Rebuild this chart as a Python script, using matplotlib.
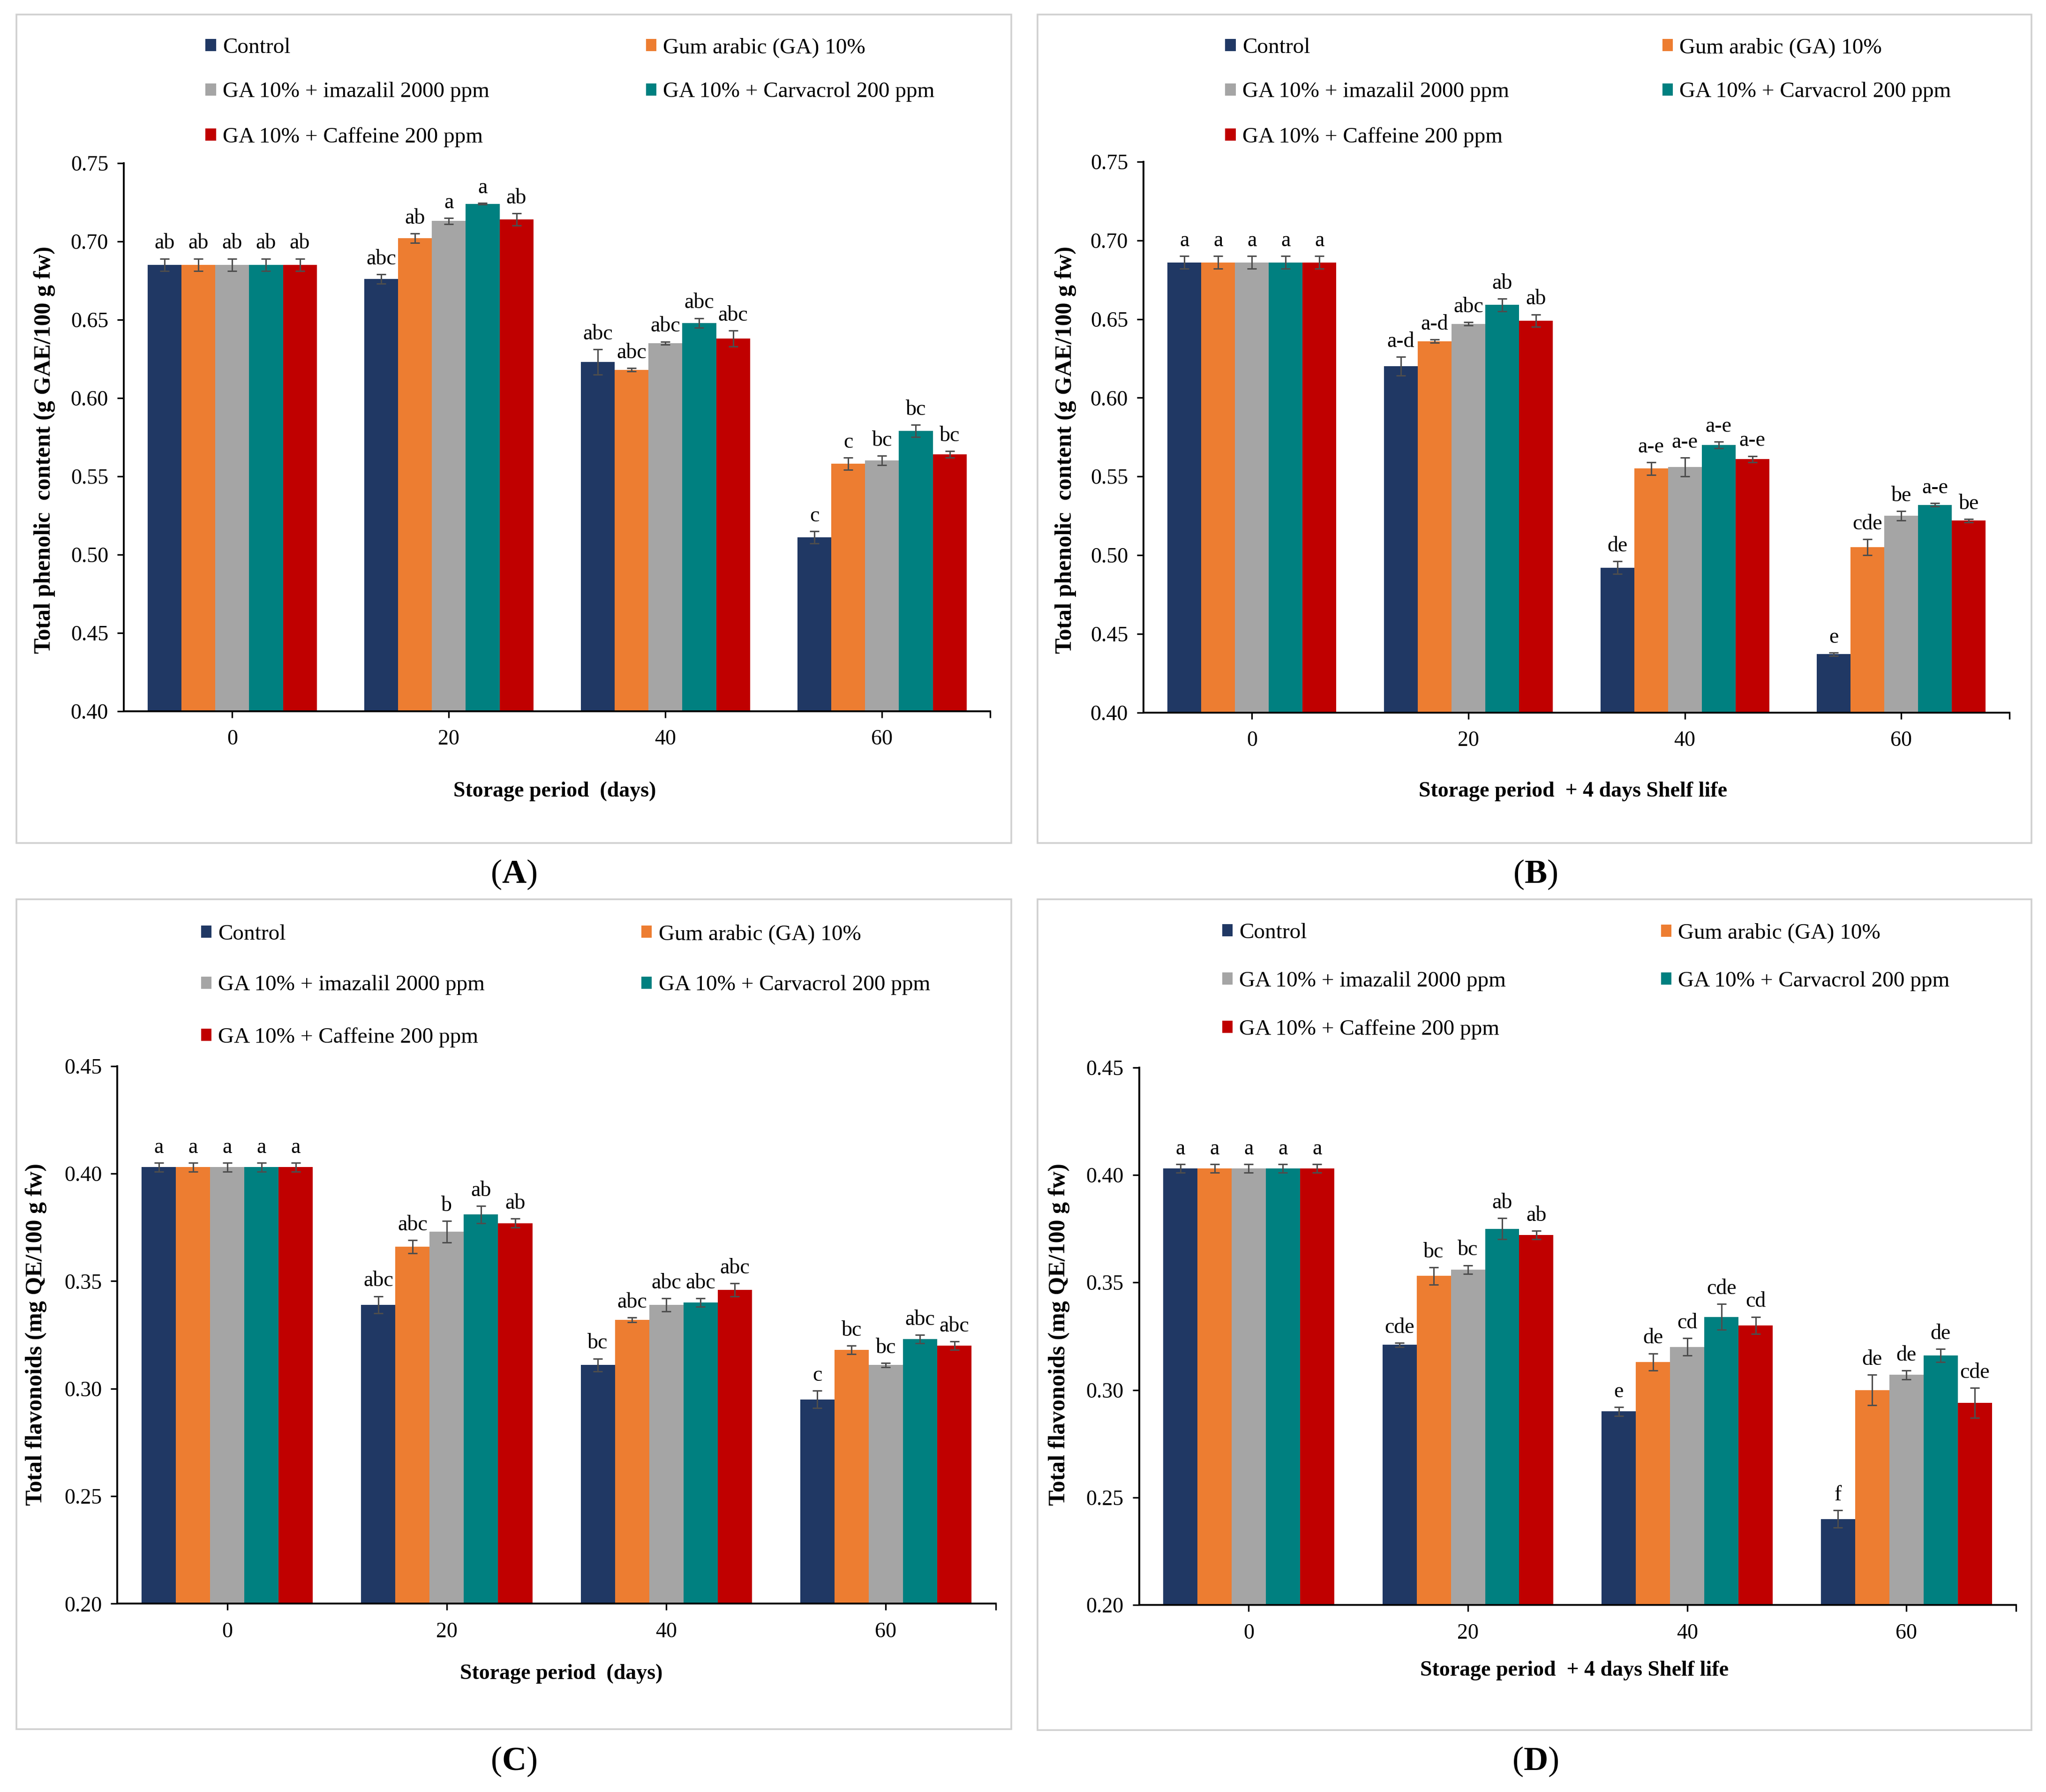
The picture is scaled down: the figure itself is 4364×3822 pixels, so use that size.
import matplotlib
matplotlib.use('Agg')
import matplotlib.pyplot as plt
import numpy as np
from matplotlib.patches import Rectangle, Patch

plt.rcParams['font.family'] = ['Liberation Serif', 'DejaVu Serif']
plt.rcParams['mathtext.fontset'] = 'custom'
plt.rcParams['mathtext.rm'] = 'Liberation Serif'
plt.rcParams['mathtext.bf'] = 'Liberation Serif:bold'

# ---------------- data ----------------
periods = ['0', '20', '40', '60']
treatments = ['Control', 'Gum arabic (GA) 10%', 'GA 10% + imazalil 2000 ppm',
              'GA 10% + Carvacrol 200 ppm', 'GA 10% + Caffeine 200 ppm']
colors = ['#203864', '#ED7D31', '#A5A5A5', '#008080', '#C00000']

# (A) Total phenolic content, storage period
phen_store_vals = [
    [0.685, 0.676, 0.623, 0.511],
    [0.685, 0.702, 0.618, 0.558],
    [0.685, 0.713, 0.635, 0.560],
    [0.685, 0.724, 0.648, 0.579],
    [0.685, 0.714, 0.638, 0.564],
]
phen_store_err = [
    [0.004, 0.003, 0.008, 0.004],
    [0.004, 0.003, 0.001, 0.004],
    [0.004, 0.002, 0.001, 0.003],
    [0.004, 0.0005, 0.003, 0.004],
    [0.004, 0.004, 0.005, 0.002],
]
phen_store_letters = [
    ['ab', 'abc', 'abc', 'c'],
    ['ab', 'ab', 'abc', 'c'],
    ['ab', 'a', 'abc', 'bc'],
    ['ab', 'a', 'abc', 'bc'],
    ['ab', 'ab', 'abc', 'bc'],
]

# (B) Total phenolic content, storage + 4 days shelf life
phen_shelf_vals = [
    [0.686, 0.620, 0.492, 0.437],
    [0.686, 0.636, 0.555, 0.505],
    [0.686, 0.647, 0.556, 0.525],
    [0.686, 0.659, 0.570, 0.532],
    [0.686, 0.649, 0.561, 0.522],
]
phen_shelf_err = [
    [0.004, 0.006, 0.004, 0.001],
    [0.004, 0.001, 0.004, 0.005],
    [0.004, 0.001, 0.006, 0.003],
    [0.004, 0.004, 0.002, 0.001],
    [0.004, 0.004, 0.002, 0.001],
]
phen_shelf_letters = [
    ['a', 'a-d', 'de', 'e'],
    ['a', 'a-d', 'a-e', 'cde'],
    ['a', 'abc', 'a-e', 'be'],
    ['a', 'ab', 'a-e', 'a-e'],
    ['a', 'ab', 'a-e', 'be'],
]

# (C) Total flavonoids, storage period
flav_store_vals = [
    [0.403, 0.339, 0.311, 0.295],
    [0.403, 0.366, 0.332, 0.318],
    [0.403, 0.373, 0.339, 0.311],
    [0.403, 0.381, 0.340, 0.323],
    [0.403, 0.377, 0.346, 0.320],
]
flav_store_err = [
    [0.002, 0.004, 0.003, 0.004],
    [0.002, 0.003, 0.001, 0.002],
    [0.002, 0.005, 0.003, 0.001],
    [0.002, 0.004, 0.002, 0.002],
    [0.002, 0.002, 0.003, 0.002],
]
flav_store_letters = [
    ['a', 'abc', 'bc', 'c'],
    ['a', 'abc', 'abc', 'bc'],
    ['a', 'b', 'abc', 'bc'],
    ['a', 'ab', 'abc', 'abc'],
    ['a', 'ab', 'abc', 'abc'],
]

# (D) Total flavonoids, storage + 4 days shelf life
flav_shelf_vals = [
    [0.403, 0.321, 0.290, 0.240],
    [0.403, 0.353, 0.313, 0.300],
    [0.403, 0.356, 0.320, 0.307],
    [0.403, 0.375, 0.334, 0.316],
    [0.403, 0.372, 0.330, 0.294],
]
flav_shelf_err = [
    [0.002, 0.001, 0.002, 0.004],
    [0.002, 0.004, 0.004, 0.007],
    [0.002, 0.002, 0.004, 0.002],
    [0.002, 0.005, 0.006, 0.003],
    [0.002, 0.002, 0.004, 0.007],
]
flav_shelf_letters = [
    ['a', 'cde', 'e', 'f'],
    ['a', 'bc', 'de', 'de'],
    ['a', 'bc', 'cd', 'de'],
    ['a', 'ab', 'cde', 'de'],
    ['a', 'ab', 'cd', 'cde'],
]

ylabel_phen = 'Total phenolic  content (g GAE/100 g fw)'
ylabel_flav = 'Total flavonoids (mg QE/100 g fw)'
xlabel_store = 'Storage period  (days)'
xlabel_shelf = 'Storage period  + 4 days Shelf life'

# ---------------- layout helpers (reference pixel grid 1568 x 1373.3) ----------------
W, H = 1568.0, 1373.3
def fx(x):
    return x / W
def fy(y):
    return 1 - y / H

fig = plt.figure(figsize=(21.82, 19.11), dpi=200)

panels = [
    dict(vals=phen_store_vals, err=phen_store_err, let=phen_store_letters,
         ax=(95, 759, 125, 545), ylim=(0.40, 0.75), ylab=ylabel_phen, xlab=xlabel_store,
         box=(12.5, 775, 11, 646), tag='A', tagxy=(393.5, 670),
         xlabxy=(425, 606.5), ylabxy=(34, 344.7),
         legx=(157.5, 495), legy=(36.4, 70.5, 105)),
    dict(vals=phen_shelf_vals, err=phen_shelf_err, let=phen_shelf_letters,
         ax=(876.5, 1540, 124, 546), ylim=(0.40, 0.75), ylab=ylabel_phen, xlab=xlabel_shelf,
         box=(795, 1557, 11, 646), tag='B', tagxy=(1176.5, 670),
         xlabxy=(1205.6, 606.5), ylabxy=(816.5, 344.7),
         legx=(939, 1274), legy=(36.4, 70.5, 105)),
    dict(vals=flav_store_vals, err=flav_store_err, let=flav_store_letters,
         ax=(90, 763, 817, 1229), ylim=(0.20, 0.45), ylab=ylabel_flav, xlab=xlabel_store,
         box=(12.5, 775, 689, 1325), tag='C', tagxy=(393.5, 1350),
         xlabxy=(430, 1282.6), ylabxy=(27.5, 1022.8),
         legx=(154, 491.6), legy=(716, 755, 795)),
    dict(vals=flav_shelf_vals, err=flav_shelf_err, let=flav_shelf_letters,
         ax=(873, 1545, 818, 1230), ylim=(0.20, 0.45), ylab=ylabel_flav, xlab=xlabel_shelf,
         box=(795, 1557, 689, 1326), tag='D', tagxy=(1176.5, 1350),
         xlabxy=(1206.6, 1280.3), ylabxy=(811.5, 1022.8),
         legx=(936.6, 1273), legy=(715, 752, 789)),
]

n_t = len(treatments)
bw = 0.156
x = np.arange(len(periods))

for p in panels:
    # panel frame
    bx0, bx1, by0, by1 = p['box']
    fig.patches.append(Rectangle((fx(bx0), fy(by1)), fx(bx1) - fx(bx0), fy(by0) - fy(by1),
                                 transform=fig.transFigure, fill=False,
                                 edgecolor='#D0D0D0', linewidth=1.3, zorder=0))
    l, r, t, b = p['ax']
    ax = fig.add_axes([fx(l), fy(b), fx(r) - fx(l), fy(t) - fy(b)])
    for i in range(n_t):
        xs = x + (i - (n_t - 1) / 2) * bw
        ax.bar(xs, p['vals'][i], width=bw, color=colors[i], zorder=2)
        ax.errorbar(xs, p['vals'][i], yerr=p['err'][i], fmt='none', ecolor='#4D4D4D',
                    elinewidth=1.1, capsize=3.5, capthick=1.1, zorder=3)
        for xi, v, e, s in zip(xs, p['vals'][i], p['err'][i], p['let'][i]):
            ax.annotate(s, xy=(xi, v + e), xytext=(0, 4), textcoords='offset points',
                        ha='center', va='bottom', fontsize=16.5, color='black')
    ax.set_xlim(-0.5, len(periods) - 0.5)
    ax.set_ylim(*p['ylim'])
    ax.set_yticks(np.round(np.arange(p['ylim'][0], p['ylim'][1] + 1e-9, 0.05), 2))
    ax.yaxis.set_major_formatter(matplotlib.ticker.FormatStrFormatter('%.2f'))
    ax.set_xticks(x)
    ax.set_xticklabels(periods)
    ax.set_xticks([len(periods) - 0.5], minor=True)
    for s in ['top', 'right']:
        ax.spines[s].set_visible(False)
    for s in ['left', 'bottom']:
        ax.spines[s].set_linewidth(1.4)
        ax.spines[s].set_color('black')
    ax.tick_params(axis='y', which='major', direction='out', length=5, width=1.2,
                   labelsize=16.5, pad=7)
    ax.tick_params(axis='x', which='both', direction='out', length=5, width=1.2,
                   labelsize=16.5, pad=9)
    # axis titles
    fig.text(fx(p['xlabxy'][0]), fy(p['xlabxy'][1]), p['xlab'], ha='center', va='center',
             fontsize=16.5, fontweight='bold')
    fig.text(fx(p['ylabxy'][0]), fy(p['ylabxy'][1]), p['ylab'], ha='center', va='center',
             rotation=90, fontsize=18, fontweight='bold')
    # panel tag
    fig.text(fx(p['tagxy'][0]), fy(p['tagxy'][1]), '($\\mathbf{' + p['tag'] + '}$)',
             ha='center', va='center', fontsize=26)
    # legend: 2 columns x 3 rows, row-major order
    for i in range(n_t):
        col = i % 2
        row = i // 2
        fig.legend(handles=[Patch(facecolor=colors[i], edgecolor='none')],
                   labels=[treatments[i]], loc='center left',
                   bbox_to_anchor=(fx(p['legx'][col]), fy(p['legy'][row])),
                   bbox_transform=fig.transFigure, frameon=False, fontsize=17,
                   borderpad=0, borderaxespad=0, handlelength=0.47, handleheight=0.47,
                   handletextpad=0.3)

fig.savefig('out.png', dpi=200, facecolor='white')
